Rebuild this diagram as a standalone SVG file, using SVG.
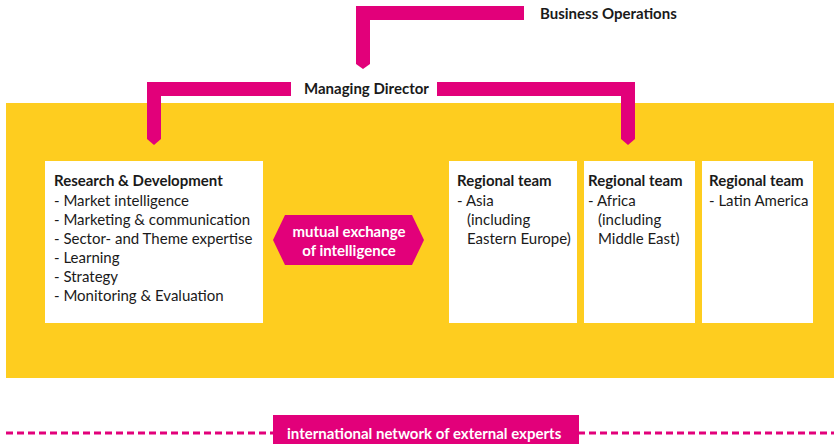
<svg xmlns="http://www.w3.org/2000/svg" width="834" height="444" viewBox="0 0 834 444">
<defs>
<style>
.bar{fill:#E2007A}
.box{fill:#FFFFFF}
.t{font-family:Lato,"Noto Sans",sans-serif;font-size:15px;fill:#1A1A1A}
.b{font-weight:bold}
.w{fill:#FFFFFF;font-weight:bold}
</style>
</defs>
<rect id="background" x="6" y="103" width="828" height="275" fill="#FECD1F"/>
<g id="connectors">
<path class="bar" d="M356 6H524V20H370V64H356Z"/>
<path class="bar" d="M356 64H370L363 69Z"/>
<path class="bar" d="M147 82H291V96H161V139H147Z"/>
<path class="bar" d="M147 139H161L154 145Z"/>
<path class="bar" d="M437 82H635V139H621V96H437Z"/>
<path class="bar" d="M621 139H635L628 145Z"/>
<line x1="6" y1="433" x2="834" y2="433" stroke="#E2007A" stroke-width="3" stroke-dasharray="7 4"/>
</g>
<g id="business-operations">
<text class="t b" x="540" y="19">Business Operations</text>
</g>
<g id="managing-director">
<text class="t b" x="304" y="94">Managing Director</text>
</g>
<g id="research-development">
<rect class="box" x="45" y="161" width="218" height="162"/>
<text class="t" x="54" y="186"><tspan class="b">Research &amp; Development</tspan><tspan x="54" y="206">- Market intelligence</tspan><tspan x="54" y="225">- Marketing &amp; communication</tspan><tspan x="54" y="244">- Sector- and Theme expertise</tspan><tspan x="54" y="263">- Learning</tspan><tspan x="54" y="282">- Strategy</tspan><tspan x="54" y="301">- Monitoring &amp; Evaluation</tspan></text>
</g>
<g id="mutual-exchange">
<path class="bar" d="M273 240L285 215H412L424 240L412 265H285Z"/>
<text class="t w" text-anchor="middle" x="349" y="237">mutual exchange</text>
<text class="t w" text-anchor="middle" x="349" y="256">of intelligence</text>
</g>
<g id="regional-asia">
<rect class="box" x="449" y="161" width="128" height="162"/>
<text class="t" x="457" y="186"><tspan class="b">Regional team</tspan><tspan x="457" y="206">- Asia</tspan><tspan x="467" y="225">(including</tspan><tspan x="467" y="244">Eastern Europe)</tspan></text>
</g>
<g id="regional-africa">
<rect class="box" x="584" y="161" width="111" height="162"/>
<text class="t" x="588" y="186"><tspan class="b">Regional team</tspan><tspan x="588" y="206">- Africa</tspan><tspan x="598" y="225">(including</tspan><tspan x="598" y="244">Middle East)</tspan></text>
</g>
<g id="regional-latin">
<rect class="box" x="702" y="161" width="111" height="162"/>
<text class="t" x="709" y="186"><tspan class="b">Regional team</tspan><tspan x="709" y="206">- Latin America</tspan></text>
</g>
<g id="external-experts">
<rect class="bar" x="273" y="415" width="306" height="29"/>
<text class="t w" x="287" y="439">international network of external experts</text>
</g>
</svg>
